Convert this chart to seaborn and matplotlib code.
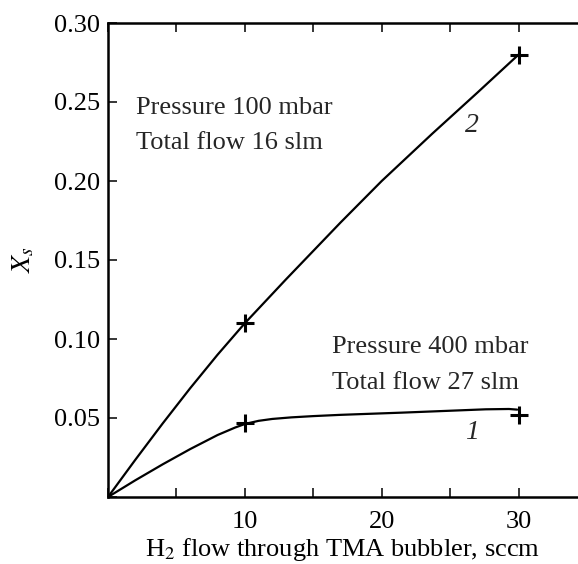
"""
X_s versus H2 flow through the TMA bubbler for two growth regimes.
"""

import matplotlib
matplotlib.use("Agg")
import matplotlib.pyplot as plt
import seaborn as sns
import pandas as pd

# curve 2: 100 mbar, 16 slm
flow_2 = [0, 2, 4, 6, 8, 10, 13, 17, 20, 23.7, 27, 30]
xs_2 = [0, 0.0236, 0.0466, 0.0688, 0.0900, 0.110, 0.1377, 0.1738, 0.200, 0.230, 0.256, 0.280]

# curve 1: 400 mbar, 27 slm
flow_1 = [0, 2, 4, 6, 8, 9.3, 10, 11, 12, 13.4, 15, 17, 21.5, 25, 27.6, 29.3, 29.9]
xs_1 = [0, 0.0106, 0.0207, 0.0303, 0.0392, 0.0440, 0.0462, 0.0482, 0.0494, 0.0504,
        0.0512, 0.0520, 0.0534, 0.0546, 0.0555, 0.0557, 0.0553]

# measured points (+)
meas_flow = [10, 30, 10, 30]
meas_xs = [0.110, 0.280, 0.047, 0.052]

x_ticks = [0, 5, 10, 15, 20, 25, 30, 35]
x_labels = ["", "", "10", "", "20", "", "30", ""]
y_ticks = [0, 0.05, 0.10, 0.15, 0.20, 0.25, 0.30]
y_labels = ["", "0.05", "0.10", "0.15", "0.20", "0.25", "0.30"]


def main():
    sns.set_theme(style="ticks")
    plt.rcParams["font.family"] = ["Liberation Serif", "DejaVu Serif"]
    plt.rcParams["mathtext.fontset"] = "stix"
    fs = 19

    fig = plt.figure(figsize=(5.78, 5.64), dpi=100)
    ax = fig.add_axes([108 / 578, 67 / 564, 479 / 578, 474 / 564])

    sns.lineplot(x=flow_2, y=xs_2, color="black", lw=1.6, sort=False, ax=ax)
    sns.lineplot(x=flow_1, y=xs_1, color="black", lw=1.6, sort=False, ax=ax)
    pts = pd.DataFrame({"flow": meas_flow, "xs": meas_xs})
    sns.scatterplot(data=pts, x="flow", y="xs", marker="+", s=150,
                    color="black", linewidth=2.2, ax=ax, zorder=5)

    ax.set_xlim(0, 35)
    ax.set_ylim(0, 0.30)
    ax.set_xticks(x_ticks)
    ax.set_xticklabels(x_labels)
    ax.set_yticks(y_ticks)
    ax.set_yticklabels(y_labels)
    ax.tick_params(direction="in", length=6.5, width=1.1, labelsize=fs,
                   top=True, right=True, colors="black")
    ax.tick_params(axis="x", pad=10)
    ax.tick_params(axis="y", pad=6)
    for sp in ax.spines.values():
        sp.set_visible(True)
        sp.set_linewidth(1.8)
        sp.set_color("black")

    ax.set_xlabel("H$_2$ flow through TMA bubbler, sccm", fontsize=fs, color="black")
    ax.xaxis.set_label_coords(0.49, -0.082)
    ax.set_ylabel("$X_s$", fontsize=fs + 1, color="black")
    ax.yaxis.set_label_coords(-0.15, 0.5)

    ax.text(2.06, 0.2424, "Pressure 100 mbar", fontsize=fs, va="baseline")
    ax.text(2.06, 0.2203, "Total flow 16 slm", fontsize=fs, va="baseline")
    ax.text(16.4, 0.0911, "Pressure 400 mbar", fontsize=fs, va="baseline")
    ax.text(16.4, 0.0684, "Total flow 27 slm", fontsize=fs, va="baseline")
    ax.text(26.6, 0.231, "2", fontsize=fs + 1, style="italic", ha="center", va="baseline")
    ax.text(26.6, 0.037, "1", fontsize=fs + 1, style="italic", ha="center", va="baseline")

    fig.savefig("out.png", dpi=100)


if __name__ == "__main__":
    main()
